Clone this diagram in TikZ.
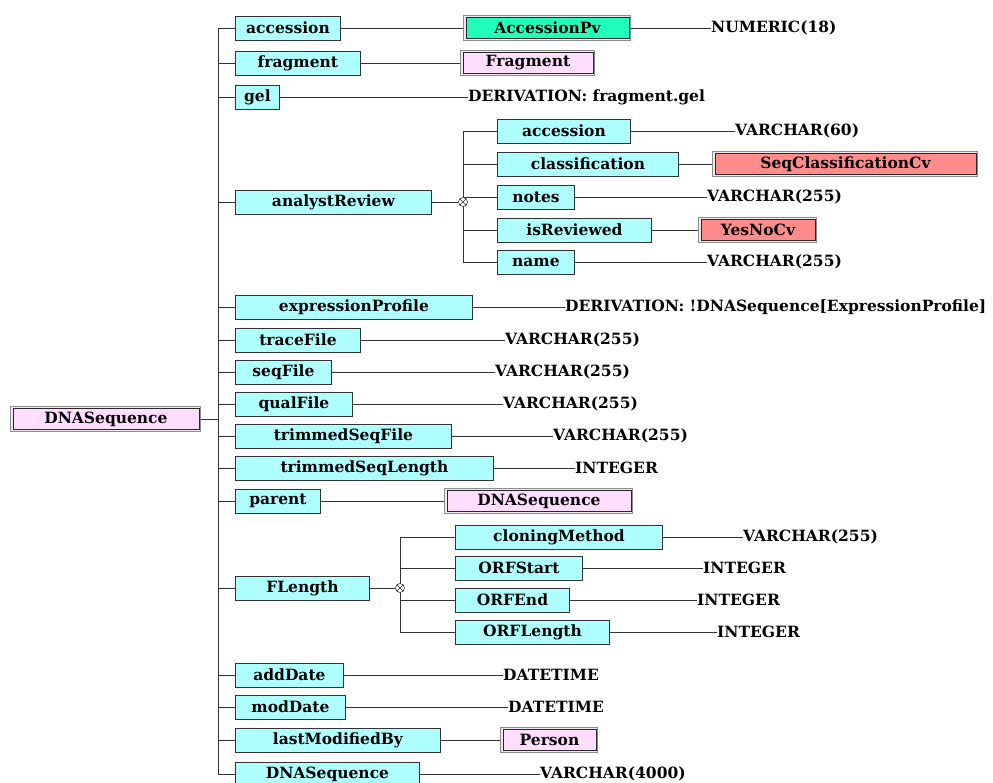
\documentclass[tikz,border=0pt]{standalone}
\usepackage{fontspec}
\setmainfont{DejaVu Serif}
\pgfdeclarelayer{bg}
\pgfsetlayers{bg,main}
\definecolor{attrc}{HTML}{B0FFFF}
\definecolor{pvc}{HTML}{22FFBB}
\definecolor{entc}{HTML}{FFDDFF}
\definecolor{cvc}{HTML}{FF8C8C}
\definecolor{linec}{HTML}{333333}
\tikzset{
  every node/.style={font=\fontsize{15.5}{18}\selectfont\bfseries, text=black},
  attr/.style={draw=linec, line width=0.9pt, fill=attrc, minimum height=24pt, inner sep=0pt, anchor=west},
  typebox/.style={fill=#1, draw=black!85, line width=0.9pt, minimum height=21pt, inner sep=0pt, anchor=west,
    preaction={draw=gray!90, line width=5pt}, preaction={draw=white!85!gray, line width=3pt}},
  leaf/.style={anchor=west, inner sep=0pt},
  junction/.style={circle, draw=linec, fill=white, line width=0.6pt, inner sep=0pt, minimum size=9pt,
    path picture={\draw[linec, line width=0.6pt] (path picture bounding box.north west) -- (path picture bounding box.south east)
      (path picture bounding box.north east) -- (path picture bounding box.south west);}},
  conn/.style={draw=linec, line width=0.9pt}
}
\begin{document}
\begin{tikzpicture}[x=1pt,y=-1pt]
\useasboundingbox (0,0) rectangle (993,783);
% root
\node[typebox=entc, minimum width=186pt] (root) at (12.5,419) {DNASequence};
\coordinate (tr) at (218,419);
% attributes
\node[attr, minimum width=105pt] (acc) at (235,28) {accession};
\node[attr, minimum width=125pt] (frag) at (235,63) {fragment};
\node[attr, minimum width=44pt] (gel) at (235,97) {gel};
\node[attr, minimum width=196pt] (ar) at (235,202) {analystReview};
\node[attr, minimum width=237pt] (ep) at (235,307) {expressionProfile};
\node[attr, minimum width=125pt] (tf) at (235,340) {traceFile};
\node[attr, minimum width=96pt] (sf) at (235,372) {seqFile};
\node[attr, minimum width=117pt] (qf) at (235,404) {qualFile};
\node[attr, minimum width=216pt] (tsf) at (235,436) {trimmedSeqFile};
\node[attr, minimum width=258pt] (tsl) at (235,468) {trimmedSeqLength};
\node[attr, minimum width=85pt] (par) at (235,501) {parent};
\node[attr, minimum width=134pt] (fl) at (235,588) {FLength};
\node[attr, minimum width=108pt] (ad) at (235,675) {addDate};
\node[attr, minimum width=110pt] (md) at (235,707) {modDate};
\node[attr, minimum width=205pt] (lmb) at (235,740) {lastModifiedBy};
\node[attr, minimum width=184pt] (dna) at (235,774) {DNASequence};
% analystReview sub
\node[junction] (j1) at (463,202) {};
\node[attr, minimum width=133pt] (acc2) at (497,131) {accession};
\node[attr, minimum width=181pt] (cls) at (497,164) {classification};
\node[attr, minimum width=77pt] (notes) at (497,197) {notes};
\node[attr, minimum width=154pt] (isr) at (497,230) {isReviewed};
\node[attr, minimum width=77pt] (name) at (497,262) {name};
% FLength sub
\node[junction] (j2) at (400,588) {};
\node[attr, minimum width=207pt] (cm) at (455,537) {cloningMethod};
\node[attr, minimum width=127pt] (os) at (455,568) {ORFStart};
\node[attr, minimum width=114pt] (oe) at (455,600) {ORFEnd};
\node[attr, minimum width=154pt] (ol) at (455,632) {ORFLength};
% type boxes
\node[typebox=pvc, minimum width=163pt] (apv) at (465.5,28) {AccessionPv};
\node[typebox=entc, minimum width=130pt] (frgT) at (462.5,63) {Fragment};
\node[typebox=cvc, minimum width=261pt] (seqc) at (714.5,164) {SeqClassificationCv};
\node[typebox=cvc, minimum width=114pt] (yn) at (700.5,230) {YesNoCv};
\node[typebox=entc, minimum width=184pt] (dnaT) at (446.5,501) {DNASequence};
\node[typebox=entc, minimum width=93pt] (per) at (502.5,740) {Person};
% leaf texts
\node[leaf] (l1) at (711,28) {NUMERIC(18)};
\node[leaf] (l2) at (468,97) {DERIVATION: fragment.gel};
\node[leaf] (l3) at (735,131) {VARCHAR(60)};
\node[leaf] (l4) at (707,197) {VARCHAR(255)};
\node[leaf] (l5) at (707,262) {VARCHAR(255)};
\node[leaf] (l6) at (565,307) {DERIVATION: !DNASequence[ExpressionProfile]};
\node[leaf] (l7) at (505,340) {VARCHAR(255)};
\node[leaf] (l8) at (495,372) {VARCHAR(255)};
\node[leaf] (l9) at (503,404) {VARCHAR(255)};
\node[leaf] (l10) at (553,436) {VARCHAR(255)};
\node[leaf] (l11) at (575,468) {INTEGER};
\node[leaf] (l12) at (743,537) {VARCHAR(255)};
\node[leaf] (l13) at (703,568) {INTEGER};
\node[leaf] (l14) at (697,600) {INTEGER};
\node[leaf] (l15) at (717,632) {INTEGER};
\node[leaf] (l16) at (503,675) {DATETIME};
\node[leaf] (l17) at (508,707) {DATETIME};
\node[leaf] (l18) at (540,774) {VARCHAR(4000)};
% connectors
\begin{pgfonlayer}{bg}
\draw[conn] (root.east) -- (tr);
\draw[conn] (acc.west -| tr) -- (dna.west -| tr);
\foreach \n in {acc,frag,gel,ar,ep,tf,sf,qf,tsf,tsl,par,fl,ad,md,lmb,dna}
  \draw[conn] (\n.west -| tr) -- (\n.west);
\draw[conn] (acc2.west -| j1) -- (name.west -| j1);
\draw[conn] (ar.east) -- (j1);
\foreach \n in {acc2,cls,notes,isr,name}
  \draw[conn] (\n.west -| j1) -- (\n.west);
\draw[conn] (cm.west -| j2) -- (ol.west -| j2);
\draw[conn] (fl.east) -- (j2);
\foreach \n in {cm,os,oe,ol}
  \draw[conn] (\n.west -| j2) -- (\n.west);
\draw[conn] (acc.east) -- (apv.west);
\draw[conn] (apv.east) -- (l1.west);
\draw[conn] (frag.east) -- (frgT.west);
\draw[conn] (gel.east) -- (l2.west);
\draw[conn] (acc2.east) -- (l3.west);
\draw[conn] (cls.east) -- (seqc.west);
\draw[conn] (notes.east) -- (l4.west);
\draw[conn] (isr.east) -- (yn.west);
\draw[conn] (name.east) -- (l5.west);
\draw[conn] (ep.east) -- (l6.west);
\draw[conn] (tf.east) -- (l7.west);
\draw[conn] (sf.east) -- (l8.west);
\draw[conn] (qf.east) -- (l9.west);
\draw[conn] (tsf.east) -- (l10.west);
\draw[conn] (tsl.east) -- (l11.west);
\draw[conn] (par.east) -- (dnaT.west);
\draw[conn] (cm.east) -- (l12.west);
\draw[conn] (os.east) -- (l13.west);
\draw[conn] (oe.east) -- (l14.west);
\draw[conn] (ol.east) -- (l15.west);
\draw[conn] (ad.east) -- (l16.west);
\draw[conn] (md.east) -- (l17.west);
\draw[conn] (lmb.east) -- (per.west);
\draw[conn] (dna.east) -- (l18.west);
\end{pgfonlayer}
\end{tikzpicture}
\end{document}
